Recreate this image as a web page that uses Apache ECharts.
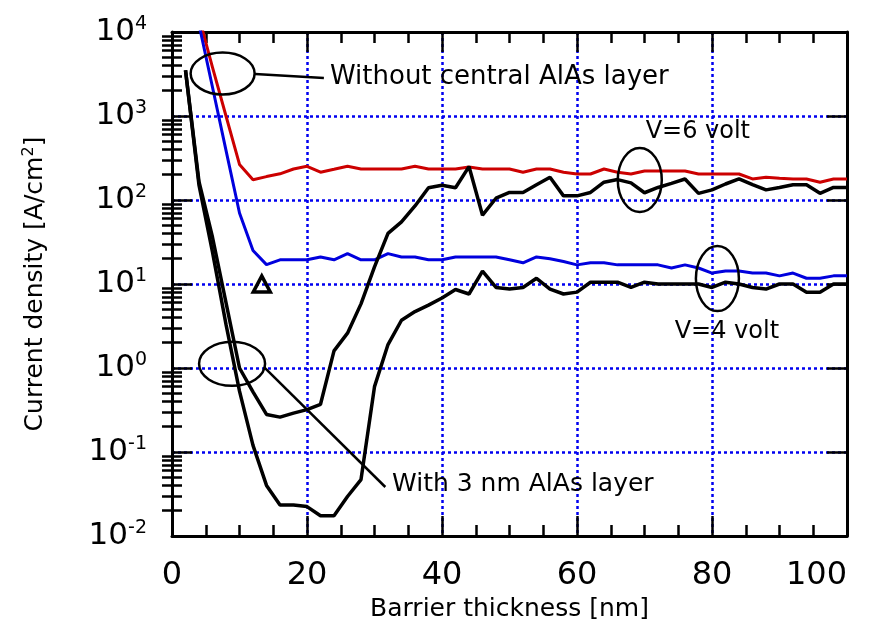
<!DOCTYPE html>
<html>
<head>
<meta charset="utf-8">
<script src="https://cdn.jsdelivr.net/npm/echarts@6/dist/echarts.min.js"></script>
<style>html,body{margin:0;padding:0;background:#fff}#c{width:881px;height:620px}</style>
</head>
<body>
<div id="c"></div>
<script>
// Barrier thickness [nm]
const thickness = [2,4,6,8,10,12,14,16,18,20,22,24,26,28,30,32,34,36,38,40,42,44,46,48,50,52,54,56,58,60,62,64,66,68,70,72,74,76,78,80,82,84,86,88,90,92,94,96,98,100];
// Without central AlAs layer, V = 6 volt (red)
const redV6 = [null,15000,3800,1000,265,174,190,205,234,252,214,232,252,234,234,234,234,252,234,234,234,247,234,234,234,214,234,234,214,204,204,234,214,204,221,221,221,221,204,204,204,204,178,187,182,178,178,163,178,178];
// Without central AlAs layer, V = 4 volt (blue)
const blueV4 = [null,12300,2200,390,70,25,17,19.4,19.4,19.4,21,19.4,23,19.4,19.4,23,21,21,19.4,19.4,21,21,21,21,19.4,17.9,21,20,18.5,16.9,17.9,17.9,16.9,16.9,16.9,16.9,15.5,16.9,15.5,13.5,14.3,14.3,13.5,13.5,12.5,13.5,11.7,11.7,12.5,12.5];
// With 3 nm AlAs layer, V = 6 volt (black)
const blackV6 = [3500,165,36,6.0,1.0,0.52,0.28,0.26,0.29,0.32,0.37,1.6,2.6,5.8,16,40,55,85,140,150,140,250,66,105,123,123,152,187,112,112,123,163,175,160,122,141,158,178,120,132,155,178,152,132,141,152,152,120,141,141];
// With 3 nm AlAs layer, V = 4 volt (black)
const blackV4 = [3500,150,24,3.3,0.53,0.12,0.04,0.0234,0.0234,0.0224,0.0174,0.0174,0.0295,0.047,0.6,1.9,3.7,4.7,5.6,6.8,8.6,7.6,14.2,9.1,8.7,9.1,11.7,8.7,7.6,8.0,10.5,10.5,10.5,9.1,10.5,10,10,10,10,9.1,10.5,10,9.1,8.7,10,10,8.0,8.0,10,10];
// single open-triangle marker
const markerX = [13.3];
const markerY = [10];
// tick values
const xMinor = [5,10,15,25,30,35,45,50,55,65,70,75,85,90,95];
const yMinor = [];
for (let e = -2; e < 4; e++) for (let m = 2; m <= 9; m++) yMinor.push(+(m * Math.pow(10, e)).toPrecision(3));

const FONT = 'DejaVu Sans';
const pairs = vals => thickness.map((x, i) => [x, vals[i]]).filter(p => p[1] !== null);

const chart = echarts.init(document.getElementById('c'), null, {renderer: 'canvas'});
const axisLineStyle = {color: '#000', width: 3};
const tickStyle = {color: '#000', width: 2.5};
const gridLineStyle = {color: '#0000f0', width: 2.5, type: [3, 3]};

function minorX(pos) {
  return {
    type: 'value', min: 0, max: 100, position: pos, offset: 0,
    axisLine: {show: false},
    axisTick: {show: true, inside: true, length: 11, customValues: xMinor, lineStyle: tickStyle},
    axisLabel: {show: false, customValues: xMinor}, splitLine: {show: false}
  };
}
function minorY(pos) {
  return {
    type: 'log', logBase: 10, min: 0.01, max: 10000, position: pos, offset: 0,
    axisLine: {show: false},
    axisTick: {show: true, inside: true, length: 10, customValues: yMinor, lineStyle: tickStyle},
    axisLabel: {show: false, customValues: yMinor}, splitLine: {show: false}
  };
}

const option = {
  animation: false,
  backgroundColor: '#fff',
  grid: {left: 172, right: 34, top: 32, bottom: 84, containLabel: false, outerBoundsMode: 'none'},
  xAxis: [
    {
      type: 'value', min: 0, max: 100, interval: 20, position: 'bottom',
      name: 'Barrier thickness [nm]', nameLocation: 'middle', nameGap: 56,
      nameTextStyle: {fontFamily: FONT, fontSize: 25, color: '#000'},
      axisLine: {show: true, onZero: false, lineStyle: axisLineStyle},
      axisTick: {show: true, inside: true, length: 20, lineStyle: tickStyle},
      axisLabel: {fontFamily: FONT, fontSize: 32, color: '#000', margin: 24, alignMaxLabel: 'right'},
      splitLine: {show: true, lineStyle: gridLineStyle}
    },
    {
      type: 'value', min: 0, max: 100, interval: 20, position: 'top',
      axisLine: {show: true, onZero: false, lineStyle: axisLineStyle},
      axisTick: {show: true, inside: true, length: 20, lineStyle: tickStyle},
      axisLabel: {show: false}, splitLine: {show: false}
    },
    minorX('bottom'),
    minorX('top')
  ],
  yAxis: [
    {
      type: 'log', logBase: 10, min: 0.01, max: 10000, position: 'left',
      name: 'Current density [A/cm{s|2}]', nameLocation: 'middle', nameGap: 123,
      nameTextStyle: {fontFamily: FONT, fontSize: 25, color: '#000',
        rich: {s: {fontFamily: FONT, fontSize: 16, color: '#000', verticalAlign: 'top', padding: [0, 0, 12, 0]}}},
      axisLine: {show: true, onZero: false, lineStyle: axisLineStyle},
      axisTick: {show: true, inside: true, length: 20, lineStyle: tickStyle},
      axisLabel: {
        margin: 25, color: '#000',
        formatter: v => '{b|10}{s|' + Math.round(Math.log10(v)) + '}',
        rich: {
          b: {fontFamily: FONT, fontSize: 31, color: '#000'},
          s: {fontFamily: FONT, fontSize: 19, color: '#000', verticalAlign: 'top', padding: [0, 0, 16, 0]}
        }
      },
      splitLine: {show: true, lineStyle: gridLineStyle}
    },
    {
      type: 'log', logBase: 10, min: 0.01, max: 10000, position: 'right',
      axisLine: {show: true, onZero: false, lineStyle: axisLineStyle},
      axisTick: {show: true, inside: true, length: 20, lineStyle: tickStyle},
      axisLabel: {show: false}, splitLine: {show: false}
    },
    minorY('left'),
    minorY('right')
  ],
  series: [
    {type: 'line', name: 'V=6 without', data: pairs(redV6), showSymbol: false, symbol: 'none', clip: true,
     lineStyle: {color: '#cc0000', width: 3}, z: 3},
    {type: 'line', name: 'V=4 without', data: pairs(blueV4), showSymbol: false, symbol: 'none', clip: true,
     lineStyle: {color: '#0000dd', width: 3}, z: 3},
    {type: 'line', name: 'V=6 with', data: pairs(blackV6), showSymbol: false, symbol: 'none', clip: true,
     lineStyle: {color: '#000', width: 3.5}, z: 4},
    {type: 'line', name: 'V=4 with', data: pairs(blackV4), showSymbol: false, symbol: 'none', clip: true,
     lineStyle: {color: '#000', width: 3.5}, z: 4},
    {type: 'scatter', data: markerX.map((x, i) => [x, markerY[i]]), symbol: 'triangle', symbolSize: [17, 16],
     itemStyle: {color: 'rgba(0,0,0,0)', borderColor: '#000', borderWidth: 3.5, opacity: 1}, z: 5}
  ]
};
chart.setOption(option);

// annotations, anchored in data coordinates
const ellipses = [
  {at: [7.5, 3200], rx: 32, ry: 21},
  {at: [69.3, 173], rx: 22, ry: 32},
  {at: [80.8, 11.6], rx: 21.5, ry: 32.5},
  {at: [8.9, 1.12], rx: 33, ry: 22}
];
const leaders = [
  {from: [12.3, 3160], to: [22.5, 2830]},
  {from: [13.6, 1.03], to: [31.6, 0.0383]}
];
const labels = [
  {at: [23.4, 2910], text: 'Without central AlAs layer', align: 'left', size: 26},
  {at: [32.6, 0.0405], text: 'With 3 nm AlAs layer', align: 'left', size: 25},
  {at: [77.9, 646], text: 'V=6 volt', align: 'center', size: 24},
  {at: [82.2, 2.68], text: 'V=4 volt', align: 'center', size: 24}
];
const px = p => chart.convertToPixel({xAxisIndex: 0, yAxisIndex: 0}, p);
const graphic = [];
ellipses.forEach(e => {
  const c = px(e.at);
  graphic.push({type: 'ellipse', shape: {cx: c[0], cy: c[1], rx: e.rx, ry: e.ry},
    style: {fill: null, stroke: '#000', lineWidth: 2.5}, z: 100});
});
leaders.forEach(l => {
  const a = px(l.from), b = px(l.to);
  graphic.push({type: 'line', shape: {x1: a[0], y1: a[1], x2: b[0], y2: b[1]},
    style: {stroke: '#000', lineWidth: 2.5}, z: 100});
});
labels.forEach(t => {
  const c = px(t.at);
  graphic.push({type: 'text', x: c[0], y: c[1],
    style: {text: t.text, fontFamily: FONT, fontSize: t.size, fill: '#000', align: t.align, verticalAlign: 'middle'}, z: 100});
});
chart.setOption({graphic: graphic});
</script>
</body>
</html>
